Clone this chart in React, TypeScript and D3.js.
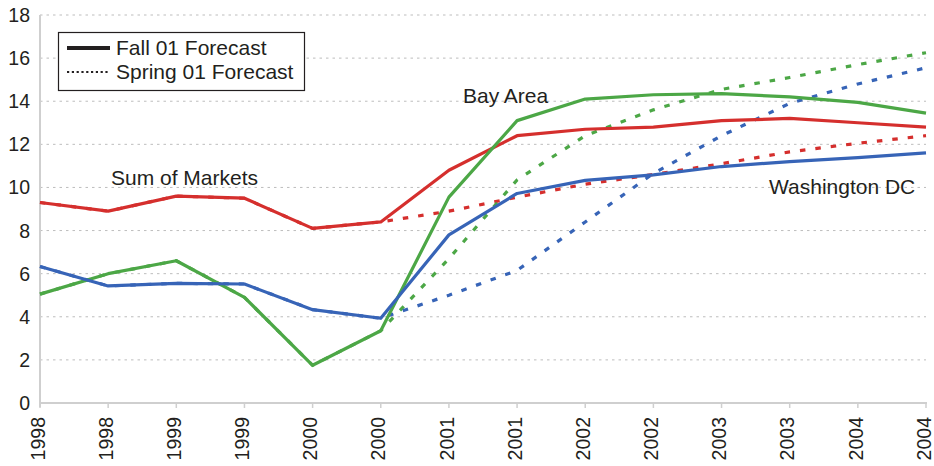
import React from "react";
import * as d3 from "d3";

const periods = ["1998", "1998", "1999", "1999", "2000", "2000", "2001", "2001", "2002", "2002", "2003", "2003", "2004", "2004"];
const yTicks = [0, 2, 4, 6, 8, 10, 12, 14, 16, 18];

const sumFall = [9.3, 8.9, 9.6, 9.5, 8.1, 8.4, 10.8, 12.4, 12.7, 12.8, 13.1, 13.2, 13.0, 12.8];
const sumSpring = [9.3, 8.9, 9.6, 9.5, 8.1, 8.4, 8.9, 9.55, 10.15, 10.6, 11.1, 11.65, 12.05, 12.4];
const bayFall = [5.05, 6.0, 6.6, 4.9, 1.75, 3.35, 9.55, 13.1, 14.1, 14.3, 14.35, 14.2, 13.95, 13.45];
const baySpring = [5.05, 6.0, 6.6, 4.9, 1.75, 3.35, 6.7, 10.35, 12.4, 13.6, 14.55, 15.1, 15.7, 16.25];
const dcFall = [6.33, 5.43, 5.55, 5.52, 4.33, 3.93, 7.8, 9.72, 10.33, 10.58, 10.97, 11.2, 11.38, 11.6];
const dcSpring = [6.33, 5.43, 5.55, 5.52, 4.33, 3.93, 5.0, 6.15, 8.4, 10.65, 12.4, 13.9, 14.8, 15.55];

const RED = "#d52f2d";
const GREEN = "#4ca746";
const BLUE = "#3764b7";
const TEXT = "#231f20";

const W = 934;
const H = 466;
const left = 40;
const right = 926;
const top = 15;
const bottom = 403;

export default function App() {
  const x = d3.scalePoint<number>().domain(d3.range(periods.length)).range([left, right]);
  const y = d3.scaleLinear().domain([0, 18]).range([bottom, top]);
  const line = d3
    .line<number>()
    .x((_, i) => x(i) as number)
    .y((d) => y(d));

  const springs = [
    { data: sumSpring, color: RED },
    { data: baySpring, color: GREEN },
    { data: dcSpring, color: BLUE },
  ];
  const falls = [
    { data: sumFall, color: RED },
    { data: bayFall, color: GREEN },
    { data: dcFall, color: BLUE },
  ];
  const font = "'Liberation Sans', Arial, Helvetica, sans-serif";

  return (
    <svg
      width={W}
      height={H}
      style={{ position: "absolute", left: 0, top: 0, background: "#fff" }}
      fontFamily={font}
    >
      {yTicks
        .filter((t) => t > 0)
        .map((t) => (
          <line
            key={"g" + t}
            x1={left}
            x2={right}
            y1={y(t)}
            y2={y(t)}
            stroke="#bdbdbd"
            strokeWidth={1}
            strokeDasharray="2.5,4"
          />
        ))}
      <line x1={left} x2={left} y1={top} y2={bottom + 4} stroke="#cfcfcf" strokeWidth={2} />
      <line x1={left} x2={right + 1} y1={bottom} y2={bottom} stroke="#cfcfcf" strokeWidth={2} />
      {periods.map((_, i) => (
        <line
          key={"t" + i}
          x1={x(i)}
          x2={x(i)}
          y1={bottom}
          y2={bottom + 5}
          stroke="#cfcfcf"
          strokeWidth={1.5}
        />
      ))}
      {yTicks.map((t) => (
        <text
          key={"yl" + t}
          x={30}
          y={y(t)}
          dy="0.36em"
          textAnchor="end"
          fontSize={19.5}
          fill={TEXT}
        >
          {t}
        </text>
      ))}
      {periods.map((p, i) => (
        <text
          key={"xl" + i}
          transform={`translate(${x(i)},${bottom + 14}) rotate(-90)`}
          dy="0.24em"
          textAnchor="end"
          fontSize={19.5}
          fill={TEXT}
        >
          {p}
        </text>
      ))}
      {springs.map((s, i) => (
        <path
          key={"s" + i}
          d={line(s.data) || ""}
          fill="none"
          stroke={s.color}
          strokeWidth={3.2}
          strokeDasharray="5.5,10"
        />
      ))}
      {falls.map((s, i) => (
        <path
          key={"f" + i}
          d={line(s.data) || ""}
          fill="none"
          stroke={s.color}
          strokeWidth={3.2}
          strokeLinejoin="round"
        />
      ))}
      <text x={111} y={185} fontSize={21} fill={TEXT}>
        Sum of Markets
      </text>
      <text x={463} y={103} fontSize={21} fill={TEXT}>
        Bay Area
      </text>
      <text x={769} y={194} fontSize={21} fill={TEXT}>
        Washington DC
      </text>
      <rect x={58.5} y={32.5} width={246} height={58} fill="#fff" stroke={TEXT} strokeWidth={1.2} />
      <line x1={67} x2={110} y1={48} y2={48} stroke={TEXT} strokeWidth={4} />
      <line x1={67} x2={110} y1={72} y2={72} stroke={TEXT} strokeWidth={2.2} strokeDasharray="2.2,2.6" />
      <text x={116} y={55} fontSize={21} fill={TEXT}>
        Fall 01 Forecast
      </text>
      <text x={116} y={79} fontSize={21} fill={TEXT}>
        Spring 01 Forecast
      </text>
    </svg>
  );
}
